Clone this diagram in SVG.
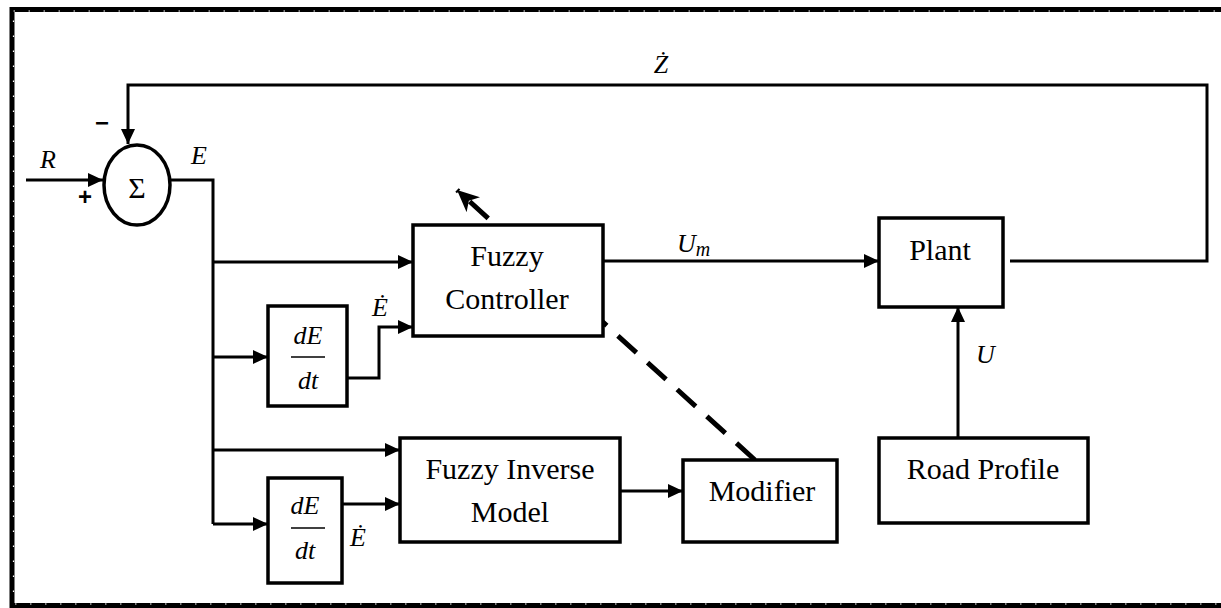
<svg xmlns="http://www.w3.org/2000/svg" width="1221" height="608" viewBox="0 0 1221 608">
<style>
.box{fill:#fff;stroke:#000;stroke-width:3.5}
.ln{fill:none;stroke:#000;stroke-width:3}
.lbl{font-family:"Liberation Serif",serif;font-size:30px;fill:#000;text-anchor:middle}
.m{font-family:"Liberation Serif",serif;font-style:italic;font-size:26px;fill:#000}
.mc{font-family:"Liberation Serif",serif;font-style:italic;font-size:26px;fill:#000;text-anchor:middle}
</style>
<defs>
<marker id="ar" markerUnits="userSpaceOnUse" markerWidth="16" markerHeight="14" refX="15" refY="7" orient="auto">
<path d="M0,0 L15,7 L0,14 Z" fill="#000"/>
</marker>
<marker id="ard" markerUnits="userSpaceOnUse" markerWidth="24" markerHeight="20" refX="22" refY="10" orient="auto">
<path d="M0,0 L22,10 L0,20 L6,10 Z" fill="#000"/>
</marker>
</defs>
<rect width="1221" height="608" fill="#fff"/>
<g id="frame">
<rect x="12" y="9.5" width="1220" height="596" fill="none" stroke="#000" stroke-width="5"/>
<rect x="13.5" y="11" width="1220" height="593" fill="none" stroke="#fff" stroke-width="1.2" stroke-dasharray="1.5 13.5"/>
</g>
<g id="connectors">
<path class="ln" d="M26,180 H103" marker-end="url(#ar)"/>
<path class="ln" d="M170,180 H213 V524"/>
<path class="ln" d="M213,262 H413" marker-end="url(#ar)"/>
<path class="ln" d="M213,357 H268" marker-end="url(#ar)"/>
<path class="ln" d="M213,450 H400" marker-end="url(#ar)"/>
<path class="ln" d="M213,524 H268" marker-end="url(#ar)"/>
<path class="ln" d="M347,378 H379 V327 H413" marker-end="url(#ar)"/>
<path class="ln" d="M342,504 H400" marker-end="url(#ar)"/>
<path class="ln" d="M603,261 H879" marker-end="url(#ar)"/>
<path class="ln" d="M1010,261 H1207 V85 H128 V144" marker-end="url(#ar)"/>
<path class="ln" d="M958,438 V307" marker-end="url(#ar)"/>
<path class="ln" d="M620,491 H683" marker-end="url(#ar)"/>
<path d="M755,460 L457,190" fill="none" stroke="#000" stroke-width="5" stroke-dasharray="25 15" marker-end="url(#ard)"/>
</g>
<g id="sum">
<ellipse cx="137" cy="185" rx="33" ry="40" class="box" stroke-width="3"/>
<text x="137" y="198" class="lbl" font-size="34">Σ</text>
</g>
<g id="fuzzy-controller">
<rect x="413" y="225" width="190" height="111" class="box"/>
<text x="507" y="266" class="lbl">Fuzzy</text>
<text x="507" y="309" class="lbl">Controller</text>
</g>
<g id="deriv1">
<rect x="268" y="306" width="79" height="100" class="box"/>
<text x="308" y="344" class="mc">dE</text>
<line x1="291" y1="357" x2="325" y2="357" stroke="#000" stroke-width="1.5"/>
<text x="308" y="389" class="mc">dt</text>
</g>
<g id="deriv2">
<rect x="268" y="478" width="74" height="105" class="box"/>
<text x="305" y="514" class="mc">dE</text>
<line x1="291" y1="528" x2="325" y2="528" stroke="#000" stroke-width="1.5"/>
<text x="305" y="559" class="mc">dt</text>
</g>
<g id="fuzzy-inverse-model">
<rect x="400" y="438" width="220" height="104" class="box"/>
<text x="510" y="479" class="lbl">Fuzzy Inverse</text>
<text x="510" y="522" class="lbl">Model</text>
</g>
<g id="modifier">
<rect x="683" y="460" width="154" height="82" class="box"/>
<text x="762" y="501" class="lbl">Modifier</text>
</g>
<g id="plant">
<rect x="879" y="218" width="124" height="89" class="box"/>
<text x="940" y="260" class="lbl">Plant</text>
</g>
<g id="road-profile">
<rect x="879" y="438" width="209" height="85" class="box"/>
<text x="983" y="479" class="lbl">Road Profile</text>
</g>
<g id="labels">
<text x="40" y="168" class="m">R</text>
<text x="191" y="164" class="m">E</text>
<text x="85" y="205" font-family="Liberation Sans,sans-serif" font-weight="bold" font-size="24" text-anchor="middle">+</text>
<text x="102" y="131" font-family="Liberation Sans,sans-serif" font-weight="bold" font-size="24" text-anchor="middle">−</text>
<text x="661" y="73" class="mc">Ż</text>
<text x="380" y="316" class="mc">Ė</text>
<text x="358" y="546" class="mc">Ė</text>
<text x="677" y="252" class="m">U<tspan font-size="20" dy="4">m</tspan></text>
<text x="976" y="363" class="m">U</text>
</g>
</svg>
